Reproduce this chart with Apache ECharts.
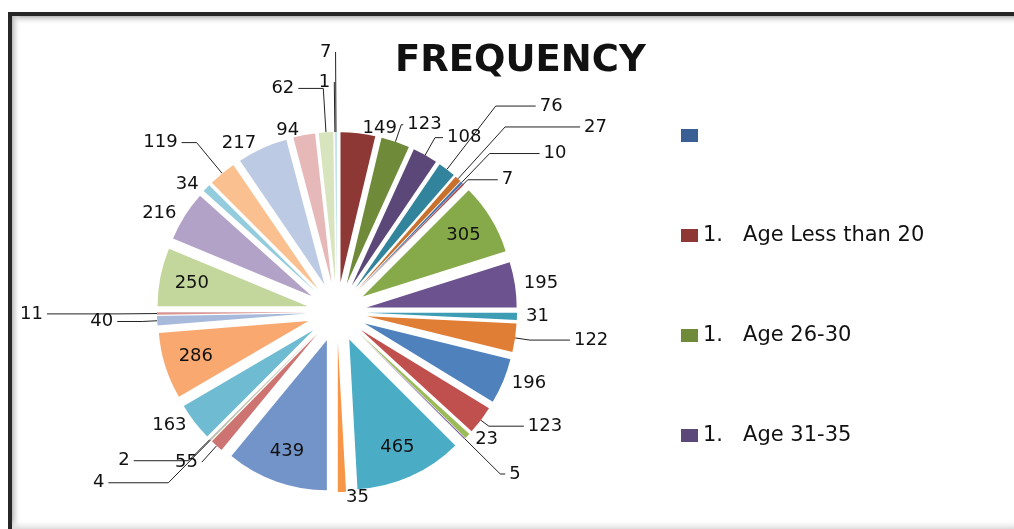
<!DOCTYPE html>
<html><head><meta charset="utf-8">
<script src="https://cdn.jsdelivr.net/npm/echarts@6/dist/echarts.min.js"></script>
<style>html,body{margin:0;padding:0;background:#fff}#c{width:1014px;height:529px}</style>
</head><body><div id="c"></div>
<script>
// ---- data ----
const categories = [' ', '1.   Age Less than 20', '1.   Age 26-30', '1.   Age 31-35',
  'Item 5','Item 6','Item 7','Item 8','Item 9','Item 10','Item 11','Item 12','Item 13','Item 14',
  'Item 15','Item 16','Item 17','Item 18','Item 19','Item 20','Item 21','Item 22','Item 23','Item 24',
  'Item 25','Item 26','Item 27','Item 28','Item 29','Item 30','Item 31','Item 32','Item 33','Item 34','Item 35'];
const values = [0,149,123,108,76,27,10,7,305,195,31,122,196,123,23,5,465,35,439,55,4,2,163,286,40,11,250,216,34,119,217,94,62,1,7];
const legendNames = categories.slice(0, 4);
const titleText = 'FREQUENCY';

// ---- styles ----
const palette = [
  '#3A5F95','#8D3835','#6F8B3A','#5B4878','#31849B','#C7712D',
  '#4573AE','#A8433F','#86A94A','#6C528F','#3C9DB5','#E07E35',
  '#4F81BD','#C0504D','#9BBB59','#8064A2','#4BACC6','#F79646',
  '#7394C9','#CD7371','#AFC97A','#9983B5','#6EBBD2','#F9A86F',
  '#A7BADB','#D99694','#C3D69B','#B3A2C7','#93CDDD','#FAC090',
  '#BCCBE3','#E6B9B8','#D7E4BD','#CCC1DA','#B7DEE8'
];
const leader = { // index: [length, length2]
  2:[18,2], 3:[20,8], 4:[80,40], 5:[70,75], 6:[40,50], 7:[6,30],
  11:[15,40], 13:[10,35], 15:[50,5], 19:[22,0], 20:[60,60], 21:[30,55],
  24:[15,25], 25:[40,70], 29:[40,15], 32:[44,25], 33:[50,0], 34:[80,0]
};
const insideIdx = [8,16,18,23,26];
const FONT = 'DejaVu Sans';
const CX = 337, CY = 312, R = 150, OFF = 30;

const mainData = values.map((v, i) => {
  const d = { name: categories[i], value: v, selected: true, itemStyle: { color: palette[i] } };
  if (i === 0 || insideIdx.includes(i)) {
    d.label = { show: false }; d.labelLine = { show: false };
  } else if (leader[i]) {
    d.labelLine = { show: true, length: leader[i][0], length2: leader[i][1] };
  }
  return d;
});
const overlayData = values.map((v, i) => ({
  name: categories[i], value: v, selected: true,
  itemStyle: { color: 'rgba(0,0,0,0)' },
  label: { show: insideIdx.includes(i) }
}));

const grad = (x, y, x2, y2, a, b) => ({ type: 'linear', x, y, x2, y2, colorStops: [{ offset: 0, color: a }, { offset: 1, color: b }] });

const chart = echarts.init(document.getElementById('c'));
chart.setOption({
  animation: false,
  backgroundColor: '#fff',
  title: { text: titleText, left: 390, top: 38,
    textStyle: { fontFamily: FONT, fontSize: 37, fontWeight: 'bold', color: '#111' } },
  legend: {
    data: legendNames, orient: 'vertical', left: 676, top: 120, itemGap: 79,
    itemWidth: 17, itemHeight: 13, icon: 'rect', selectedMode: false,
    textStyle: { fontFamily: FONT, fontSize: 21, color: '#111' }
  },
  graphic: [
    { type: 'rect', silent: true, shape: { x: 12, y: 16, width: 1010, height: 9 }, style: { fill: grad(0,0,0,1,'#b8b8b8','rgba(255,255,255,0)') } },
    { type: 'rect', silent: true, shape: { x: 12, y: 16, width: 9, height: 520 }, style: { fill: grad(0,0,1,0,'#b8b8b8','rgba(255,255,255,0)') } },
    { type: 'rect', silent: true, shape: { x: 12, y: 519, width: 1010, height: 10 }, style: { fill: grad(0,0,0,1,'rgba(255,255,255,0)','#dcdcdc') } },
    { type: 'rect', silent: true, shape: { x: 8, y: 12, width: 1010, height: 4 }, style: { fill: '#262626' } },
    { type: 'rect', silent: true, shape: { x: 8, y: 12, width: 4, height: 520 }, style: { fill: '#262626' } }
  ],
  series: [
    {
      type: 'pie', center: [CX, CY], radius: [0, R], startAngle: 90,
      selectedMode: 'multiple', selectedOffset: OFF, avoidLabelOverlap: false,
      emphasis: { disabled: true }, select: { itemStyle: {} },
      label: { position: 'outside', formatter: '{c}', fontFamily: FONT, fontSize: 18, color: '#111', distanceToLabelLine: 4 },
      labelLine: { show: false, length: 5, length2: 0, lineStyle: { color: '#222', width: 1 } },
      data: mainData
    },
    {
      type: 'pie', center: [CX, CY], radius: [80, R], startAngle: 90, silent: true,
      selectedMode: 'multiple', selectedOffset: OFF, avoidLabelOverlap: false,
      emphasis: { disabled: true }, select: { itemStyle: { color: 'rgba(0,0,0,0)' } },
      label: { position: 'inside', formatter: '{c}', fontFamily: FONT, fontSize: 18, color: '#111' },
      labelLine: { show: false },
      data: overlayData
    }
  ]
});
</script></body></html>
